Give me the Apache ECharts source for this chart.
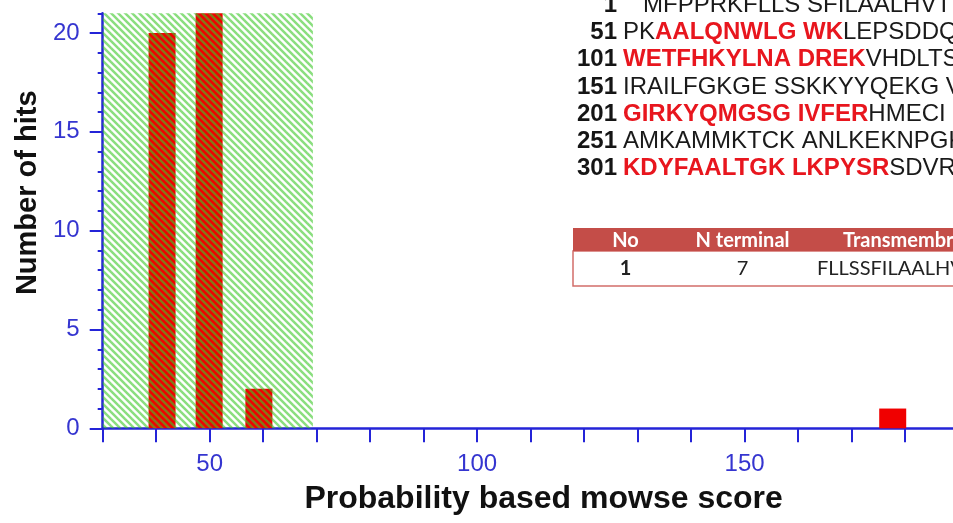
<!DOCTYPE html>
<html>
<head>
<meta charset="utf-8">
<script src="https://cdn.jsdelivr.net/npm/echarts@6/dist/echarts.min.js"></script>
<style>
  html, body { margin: 0; padding: 0; background: #fff; }
  #chart { width: 953px; height: 523px; }
</style>
</head>
<body>
<div id="chart"></div>
<script>
// ---------- data ----------
const xTitle = 'Probability based mowse score';
const yTitle = 'Number of hits';
const xMin = 30, xMax = 190, xTickStep = 10;
const xLabelValues = [50, 100, 150];
const yMin = 0, yMax = 21;
const yLabelValues = [0, 5, 10, 15, 20];
const hitScores = [41.1, 49.9, 59.2, 177.7];
const hitCounts = [20, 21, 2, 1];
const randomBand = [30, 69.3];   // score range of the shaded (random match) zone
const randomBandTop = 21;

const seqStarts = [1, 51, 101, 151, 201, 251, 301];
const seqLines = [
  [['   MFPPRKFLLS SFILAALHVT A', 0]],
  [['PK', 0], ['AALQNWLG WK', 1], ['LEPSDDQ', 0]],
  [['WETFHKYLNA DREK', 1], ['VHDLTS', 0]],
  [['IRAILFGKGE SSKKYYQEKG V', 0]],
  [['GIRKYQMGSG IVFER', 1], ['HMECI I', 0]],
  [['AMKAMMKTCK ANLKEKNPGK', 0]],
  [['KDYFAALTGK LKPYSR', 1], ['SDVR', 0]]
];
const tableHeaders = ['No', 'N terminal', 'Transmembrane'];
const tableRow = ['1', '7', 'FLLSSFILAALHV'];

// ---------- styles ----------
const axisBlue = '#2424d8';
const labelBlue = '#3535d0';

function makeHatch() {
  const s = 7;
  const c = document.createElement('canvas');
  c.width = s; c.height = s;
  const g = c.getContext('2d');
  g.strokeStyle = 'rgba(60,200,40,0.6)';
  g.lineWidth = 2.5;
  for (const x0 of [-s, 0, s]) {
    g.beginPath();
    g.moveTo(x0 - 1, -1);
    g.lineTo(x0 + s + 1, s + 1);
    g.stroke();
  }
  return c;
}
const hatch = { image: makeHatch(), repeat: 'repeat' };

// ---------- graphic (sequence + table) ----------
const graphics = [];
const seqLineH = 27.3, seqY0 = 5;
seqStarts.forEach((n, i) => {
  const cy = seqY0 + seqLineH * i;
  graphics.push({
    type: 'text', x: 617, y: cy, silent: true,
    style: { text: String(n), align: 'right', verticalAlign: 'middle',
      fontFamily: 'Liberation Sans', fontWeight: 'bold', fontSize: 24, fill: '#151515' }
  });
  const txt = seqLines[i].map(([t, hit]) => '{' + (hit ? 'r' : 'p') + '|' + t + '}').join('');
  graphics.push({
    type: 'text', x: 623, y: cy, silent: true,
    style: {
      text: txt, align: 'left', verticalAlign: 'middle',
      fontFamily: 'Liberation Sans', fontSize: 24,
      rich: {
        p: { fontFamily: 'Liberation Sans', fontSize: 24, fontWeight: 'normal', fill: '#1a1a1a' },
        r: { fontFamily: 'Liberation Sans', fontSize: 24, fontWeight: 'bold', fill: '#e8161e' }
      }
    }
  });
});

const tblX = 573, tblHeadY = 228, tblHeadH = 23, tblRowH = 35, tblW = 400;
graphics.push({ type: 'rect', silent: true, shape: { x: tblX, y: tblHeadY + tblHeadH, width: tblW, height: tblRowH },
  style: { fill: '#fff', stroke: '#d26e6a', lineWidth: 1.5 } });
graphics.push({ type: 'rect', silent: true, shape: { x: tblX, y: tblHeadY, width: tblW, height: tblHeadH },
  style: { fill: '#c44d48' } });
const colX = [625.5, 742.5, 843];
const colAlign = ['center', 'center', 'left'];
const rowX = [625.5, 742.5, 817];
tableHeaders.forEach((h, i) => {
  graphics.push({ type: 'text', silent: true, x: colX[i], y: tblHeadY + tblHeadH / 2 + 1,
    style: { text: h, align: colAlign[i], verticalAlign: 'middle', fontFamily: 'Lato',
      fontWeight: 'bold', fontSize: 20, fill: '#ffffff' } });
});
tableRow.forEach((v, i) => {
  graphics.push({ type: 'text', silent: true, x: rowX[i], y: tblHeadY + tblHeadH + tblRowH / 2,
    style: { text: v, align: colAlign[i], verticalAlign: 'middle', fontFamily: 'Lato',
      fontWeight: i === 0 ? 'bold' : 'normal', fontSize: 20, fill: '#222' } });
});

// ---------- chart ----------
const chart = echarts.init(document.getElementById('chart'), null, { renderer: 'canvas' });
chart.setOption({
  animation: false,
  backgroundColor: '#ffffff',
  grid: { left: 102.7, width: 855.8, top: 13.3, bottom: 94.7, containLabel: false, outerBoundsMode: 'none' },
  xAxis: {
    type: 'value', min: xMin, max: xMax, interval: xTickStep,
    name: xTitle, nameLocation: 'middle', nameGap: 55,
    nameTextStyle: { fontFamily: 'Liberation Sans', fontWeight: 'bold', fontSize: 32, color: '#111', padding: [0, 0, 0, 26] },
    axisLine: { show: true, onZero: false, lineStyle: { color: axisBlue, width: 2.5 } },
    axisTick: { show: true, length: 14, lineStyle: { color: axisBlue, width: 2 } },
    axisLabel: { customValues: xLabelValues, margin: 24, fontFamily: 'Liberation Sans', fontSize: 24, color: labelBlue },
    splitLine: { show: false }
  },
  yAxis: [
    {
      type: 'value', min: yMin, max: yMax, interval: 5,
      name: yTitle, nameLocation: 'middle', nameGap: 58, nameRotate: 90,
      nameTextStyle: { fontFamily: 'Liberation Sans', fontWeight: 'bold', fontSize: 29, color: '#111', padding: [0, 0, 0, 56] },
      axisLine: { show: true, onZero: false, lineStyle: { color: axisBlue, width: 2.5 } },
      axisTick: { show: true, customValues: yLabelValues, length: 13, lineStyle: { color: axisBlue, width: 2 } },
      axisLabel: { customValues: yLabelValues, margin: 23, fontFamily: 'Liberation Sans', fontSize: 24, color: labelBlue },
      splitLine: { show: false }
    },
    {
      type: 'value', min: yMin, max: yMax, interval: 1, position: 'left',
      axisLine: { show: false },
      axisTick: { show: true, length: 5, lineStyle: { color: axisBlue, width: 2 } },
      axisLabel: { show: false },
      splitLine: { show: false }
    }
  ],
  series: [
    {
      type: 'bar', xAxisIndex: 0, yAxisIndex: 0, z: 2,
      data: hitScores.map((s, i) => [s, hitCounts[i]]),
      barWidth: 27,
      itemStyle: { color: '#f00000' }
    },
    {
      type: 'custom', xAxisIndex: 0, yAxisIndex: 0, z: 3, silent: true,
      data: [[randomBand[0], randomBand[1], randomBandTop]],
      encode: { x: [0, 1], y: 2 },
      renderItem: function (params, api) {
        const p0 = api.coord([api.value(0), 0]);
        const p1 = api.coord([api.value(1), api.value(2)]);
        return {
          type: 'rect',
          shape: { x: p0[0], y: p1[1], width: p1[0] - p0[0], height: p0[1] - p1[1] },
          style: { fill: hatch }
        };
      }
    }
  ],
  graphic: graphics
});
</script>
</body>
</html>
